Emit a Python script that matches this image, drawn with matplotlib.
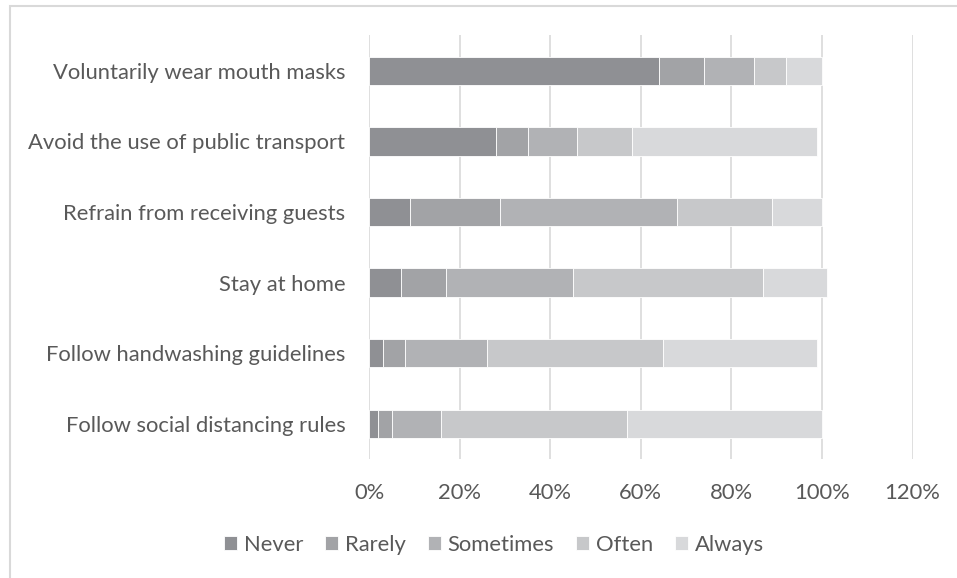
import matplotlib.pyplot as plt
import numpy as np
from matplotlib.patches import Rectangle

behaviours = [
    "Voluntarily wear mouth masks",
    "Avoid the use of public transport",
    "Refrain from receiving guests",
    "Stay at home",
    "Follow handwashing guidelines",
    "Follow social distancing rules",
]
responses = ["Never", "Rarely", "Sometimes", "Often", "Always"]

# share of respondents (%) per answer, one list per behaviour above
never = [64, 28, 9, 7, 3, 2]
rarely = [10, 7, 20, 10, 5, 3]
sometimes = [11, 11, 39, 28, 18, 11]
often = [7, 12, 21, 42, 39, 41]
always = [8, 41, 11, 14, 34, 43]

colors = ["#8f9094", "#a2a3a6", "#b1b2b5", "#c7c8ca", "#d8d9db"]
text_color = "#595959"

plt.rcParams['font.family'] = ['Lato', 'DejaVu Sans']

fig = plt.figure(figsize=(9.57, 5.78), dpi=100)
ax = fig.add_axes([0.3856, 0.2057, 0.568, 0.7329])

# chart area frame
fig.patches.append(Rectangle((10 / 957, -0.1), 1.2, 1 - 6 / 578 + 0.1,
                             transform=fig.transFigure, fill=False,
                             edgecolor="#d9d9d9", linewidth=1.5))

series = np.array([never, rarely, sometimes, often, always], dtype=float)
y = np.arange(len(behaviours))
left = np.zeros(len(behaviours))
for vals, name, c in zip(series, responses, colors):
    ax.barh(y, vals, left=left, height=0.4, color=c, edgecolor="white",
            linewidth=0.6, label=name, zorder=3)
    left += vals

ax.set_ylim(len(behaviours) - 0.5, -0.5)
ax.set_xlim(0, 120)
ax.set_xticks(np.arange(0, 121, 20))
ax.set_xticklabels([f"{t}%" for t in range(0, 121, 20)])
ax.set_yticks(y)
ax.set_yticklabels(behaviours)
ax.tick_params(axis='both', length=0, labelsize=15.8, colors=text_color)
ax.tick_params(axis='y', pad=17)
ax.tick_params(axis='x', pad=17)
ax.grid(axis='x', color="#d9d9d9", linewidth=1.2, zorder=0)
for s in ax.spines.values():
    s.set_visible(False)

handles, labels = ax.get_legend_handles_labels()
fig.legend(handles, labels, loc='center', bbox_to_anchor=(0.516, 1 - 545 / 578),
           ncol=5, frameon=False, fontsize=15.8, labelcolor=text_color,
           handlelength=0.6, handleheight=0.6, handletextpad=0.3,
           columnspacing=1.0)

fig.savefig("out.png", dpi=100)
